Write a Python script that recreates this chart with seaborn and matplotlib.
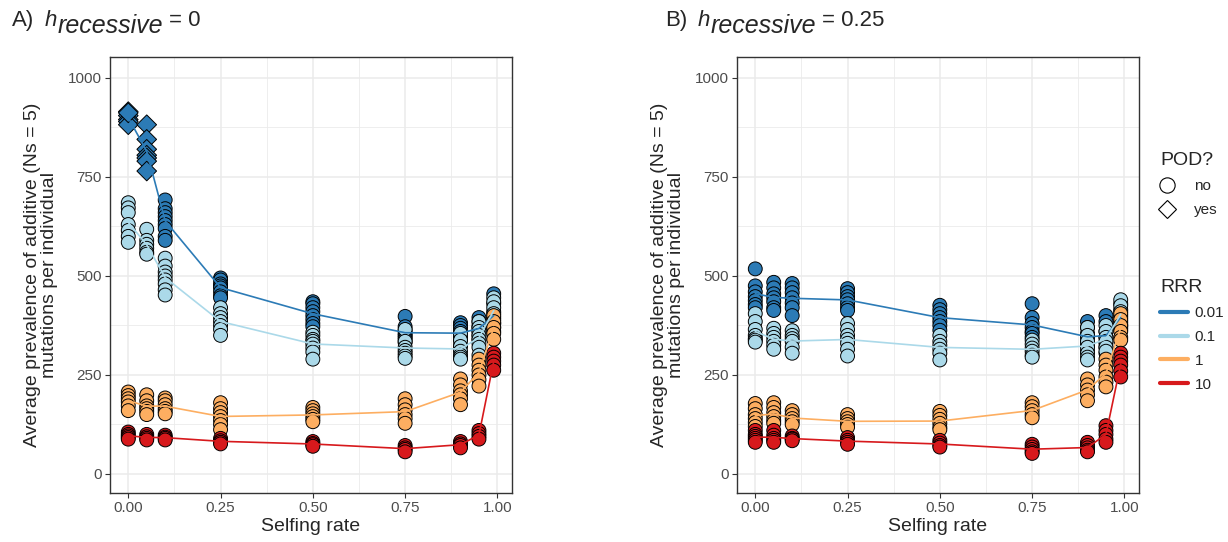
import numpy as np
import pandas as pd
import matplotlib
matplotlib.use("Agg")
import matplotlib.pyplot as plt
from matplotlib.lines import Line2D
import seaborn as sns

selfing = [0.0, 0.05, 0.1, 0.25, 0.5, 0.75, 0.9, 0.95, 0.99]
rrr_levels = ["0.01", "0.1", "1", "10"]
rrr_colors = ["#2c7bb6", "#abd9e9", "#fdae61", "#d7191c"]

# panel A, h_recessive = 0 (one list of replicates per selfing rate)
a_rrr001 = [[915, 905, 895, 890, 882, 912],
            [882, 845, 820, 805, 798, 790, 765],
            [692, 670, 660, 650, 640, 630, 620, 600, 590],
            [495, 490, 480, 475, 470, 460, 450, 445],
            [435, 430, 420, 410, 400, 390, 380, 372],
            [398, 372, 362, 355, 350, 345, 340, 332],
            [382, 375, 368, 360, 352, 345, 338, 325],
            [395, 385, 375, 368, 360, 350, 340],
            [455, 430, 410, 395, 380, 370, 360]]
a_rrr01 = [[685, 672, 660, 630, 615, 600, 585],
           [618, 590, 580, 570, 560, 555],
           [545, 525, 510, 500, 490, 480, 465, 452],
           [420, 405, 395, 385, 375, 365, 350],
           [358, 350, 340, 335, 328, 318, 308, 290],
           [365, 335, 320, 312, 305, 298, 292],
           [355, 338, 322, 310, 300, 295, 290],
           [385, 370, 360, 350, 340, 330, 320, 300],
           [445, 435, 420, 405, 390, 380]]
a_rrr1 = [[207, 198, 190, 182, 172, 160],
          [200, 185, 172, 165, 158, 150],
          [192, 185, 175, 165, 158, 152],
          [180, 165, 155, 145, 135, 125, 112],
          [168, 160, 152, 145, 138, 132],
          [190, 175, 162, 150, 140, 128],
          [240, 225, 210, 200, 190, 175],
          [290, 275, 262, 250, 238, 222],
          [400, 385, 370, 355, 340]]
a_rrr10 = [[106, 100, 96, 92, 88],
           [100, 94, 90, 86],
           [98, 93, 90, 86],
           [90, 84, 80, 76],
           [82, 77, 74, 70],
           [72, 66, 62, 56],
           [82, 76, 72, 66],
           [110, 102, 95, 88],
           [305, 295, 285, 275, 262]]
# POD only for RRR 0.01 at the lowest selfing rates in panel A
a_pod_selfing = [0.0, 0.05]

# panel B, h_recessive = 0.25
b_rrr001 = [[518, 475, 460, 448, 438, 428, 420],
            [484, 470, 455, 445, 435, 420, 413],
            [481, 470, 458, 445, 432, 420, 400],
            [468, 458, 448, 440, 430, 420, 413],
            [426, 415, 405, 395, 385, 375, 363],
            [430, 395, 380, 370, 360, 355, 345],
            [385, 370, 355, 345, 335, 325, 310],
            [400, 385, 360, 345, 330, 320, 305],
            [430, 415, 400, 385, 375, 365]]
b_rrr01 = [[405, 385, 365, 350, 342, 338, 333],
           [368, 355, 345, 335, 325, 315],
           [362, 350, 342, 335, 320, 305],
           [380, 365, 350, 340, 330, 315, 298],
           [350, 335, 325, 315, 305, 288],
           [338, 328, 318, 310, 300, 295],
           [370, 350, 335, 320, 305, 295, 288],
           [375, 360, 345, 335, 320, 310],
           [440, 425, 410, 395, 380, 370]]
b_rrr1 = [[178, 165, 150, 140, 130, 120],
          [180, 168, 155, 145, 135, 128],
          [160, 150, 140, 132, 125],
          [150, 140, 132, 125, 118],
          [158, 148, 138, 128, 118, 112],
          [180, 170, 160, 150, 142],
          [240, 225, 212, 200, 185],
          [290, 275, 262, 245, 232, 220],
          [405, 390, 375, 360, 345, 338]]
b_rrr10 = [[110, 100, 95, 90, 85, 80],
           [110, 98, 90, 85, 80],
           [96, 90, 88, 84],
           [92, 85, 80, 75],
           [85, 78, 72, 68],
           [75, 68, 62, 56, 52],
           [80, 72, 66, 60, 56],
           [122, 110, 100, 88, 80],
           [305, 295, 285, 275, 260, 245]]
b_pod_selfing = []


def make_frame(groups, pod_selfing):
    rows = []
    for rrr, vals in zip(rrr_levels, groups):
        for s, ys in zip(selfing, vals):
            for y in ys:
                pod = "yes" if (rrr == "0.01" and s in pod_selfing) else "no"
                rows.append((s, y, rrr, pod))
    return pd.DataFrame(rows, columns=["selfing", "prevalence", "RRR", "POD"])


df_a = make_frame([a_rrr001, a_rrr01, a_rrr1, a_rrr10], a_pod_selfing)
df_b = make_frame([b_rrr001, b_rrr01, b_rrr1, b_rrr10], b_pod_selfing)

sns.set_style("whitegrid", {"grid.color": "#ebebeb", "axes.edgecolor": "#333333"})
plt.rcParams["font.family"] = ["Liberation Sans", "DejaVu Sans"]

W, H = 1228, 542
fig = plt.figure(figsize=(W / 100, H / 100), dpi=100)
ax_a = fig.add_axes([110 / W, 49 / H, 402 / W, 436 / H])
ax_b = fig.add_axes([737 / W, 49 / H, 402 / W, 436 / H])

for ax, df in [(ax_a, df_a), (ax_b, df_b)]:
    sns.scatterplot(data=df, x="selfing", y="prevalence", hue="RRR",
                    hue_order=rrr_levels, palette=rrr_colors,
                    style="POD", style_order=["no", "yes"],
                    markers={"no": "o", "yes": "D"}, s=100,
                    edgecolor="black", linewidth=0.7, legend=False,
                    ax=ax, zorder=2)
    sns.lineplot(data=df, x="selfing", y="prevalence", hue="RRR",
                 hue_order=rrr_levels, palette=rrr_colors,
                 estimator="mean", errorbar=None, lw=1.2, legend=False,
                 ax=ax, zorder=3)
    ax.set_xlim(-0.0495, 1.0395)
    ax.set_ylim(-48, 1053)
    ax.set_xticks([0, 0.25, 0.5, 0.75, 1.0])
    ax.set_xticklabels(["0.00", "0.25", "0.50", "0.75", "1.00"])
    ax.set_yticks([0, 250, 500, 750, 1000])
    ax.set_xticks([0.125, 0.375, 0.625, 0.875], minor=True)
    ax.set_yticks([125, 375, 625, 875], minor=True)
    ax.grid(which="major", color="#ebebeb", lw=1.1)
    ax.grid(which="minor", color="#ebebeb", lw=0.6)
    ax.set_axisbelow(True)
    ax.tick_params(which="major", bottom=True, left=True, length=3.6,
                   width=0.8, color="#333333", labelcolor="#4d4d4d",
                   labelsize=11, pad=2.5)
    ax.tick_params(which="minor", length=0)
    for sp in ax.spines.values():
        sp.set_color("#333333")
        sp.set_linewidth(1.0)
    ax.set_xlabel("Selfing rate", fontsize=14, labelpad=2)
    ax.set_ylabel("Average prevalence of additive (Ns = 5)\nmutations per individual",
                  fontsize=14, labelpad=7, linespacing=1.0)


def panel_title(x0, letter, value):
    # pieces: "A)", italic h, big italic subscript, "= value"
    fig.text(x0 / W, 1 - 26 / H, letter, fontsize=16, va="baseline")
    fig.text((x0 + 33) / W, 1 - 26 / H, "h", fontsize=16, style="italic", va="baseline")
    fig.text((x0 + 46) / W, 1 - 33 / H, "recessive", fontsize=18, style="italic", va="baseline")
    fig.text((x0 + 157) / W, 1 - 26 / H, "= " + value, fontsize=16, va="baseline")


panel_title(12, "A)", "0")
panel_title(665, "B)", "0.25")

pod_handles = [Line2D([], [], ls="", marker="o", mfc="white", mec="black", ms=11, mew=0.8),
               Line2D([], [], ls="", marker="D", mfc="white", mec="black", ms=9, mew=0.8)]
leg1 = fig.legend(pod_handles, ["no", "yes"], title="POD?", loc="upper left",
                  bbox_to_anchor=(1160 / W, 1 - 152 / H), frameon=False,
                  fontsize=11, title_fontsize=14, handlelength=0.9,
                  handletextpad=1.3, labelspacing=0.65, alignment="left",
                  borderpad=0, borderaxespad=0)
rrr_handles = [Line2D([], [], color=c, lw=3) for c in rrr_colors]
leg2 = fig.legend(rrr_handles, rrr_levels, title="RRR", loc="upper left",
                  bbox_to_anchor=(1160 / W, 1 - 279 / H), frameon=False,
                  fontsize=11, title_fontsize=14, handlelength=1.85,
                  handletextpad=0.4, labelspacing=0.65, alignment="left",
                  borderpad=0, borderaxespad=0)

fig.savefig("out.png", dpi=100)
